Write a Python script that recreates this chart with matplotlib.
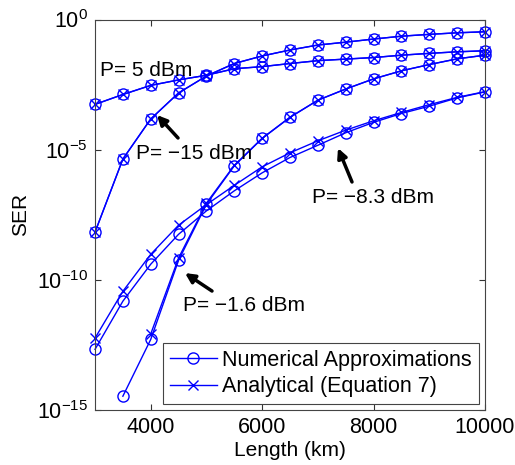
import numpy as np
import matplotlib
matplotlib.use('Agg')
import matplotlib.pyplot as plt

plt.rcParams['font.family'] = ['Liberation Sans', 'DejaVu Sans']
plt.rcParams['mathtext.fontset'] = 'custom'
plt.rcParams['mathtext.rm'] = 'Liberation Sans'
plt.rcParams['mathtext.it'] = 'Liberation Sans:italic'
plt.rcParams['mathtext.bf'] = 'Liberation Sans:bold'

# fibre length (km)
length = np.arange(3000, 10001, 500)

# log10(SER)
p5 = [-3.26, -2.88, -2.53, -2.32, -2.14, -1.89, -1.81, -1.69, -1.58, -1.52, -1.46, -1.37, -1.30, -1.24, -1.20]
m15 = [-8.17, -5.36, -3.82, -2.82, -2.17, -1.69, -1.40, -1.17, -0.98, -0.87, -0.75, -0.64, -0.57, -0.51, -0.47]
m1p6_num = [np.nan, -14.47, -12.29, -9.25, -7.10, -5.62, -4.57, -3.76, -3.10, -2.67, -2.28, -1.97, -1.73, -1.51, -1.37]
m1p6_ana = [np.nan, np.nan, -12.08, -9.16, -7.05, -5.60, -4.56, -3.75, -3.10, -2.67, -2.28, -1.97, -1.73, -1.51, -1.37]
m8p3_num = [-12.67, -10.82, -9.40, -8.25, -7.35, -6.58, -5.89, -5.30, -4.83, -4.35, -3.95, -3.61, -3.33, -3.01, -2.78]
m8p3_ana = [-12.24, -10.44, -9.02, -7.90, -7.11, -6.37, -5.66, -5.12, -4.66, -4.25, -3.89, -3.57, -3.27, -2.99, -2.77]

numerical = [p5, m15, m1p6_num, m8p3_num]
analytical = [p5, m15, m1p6_ana, m8p3_ana]

fig = plt.figure(figsize=(5.15, 4.65), dpi=100)
ax = fig.add_axes([0.1845, 0.1183, 0.7572, 0.8397])

blue = (0, 0, 1)
for i, s in enumerate(numerical):
    ax.plot(length, 10.0 ** np.array(s), '-', color=blue, lw=1.0, marker='o', ms=8,
            mfc='none', mew=1.0, clip_on=False,
            label='Numerical Approximations' if i == 0 else None)
for i, s in enumerate(analytical):
    ax.plot(length, 10.0 ** np.array(s), '-', color=blue, lw=1.0, marker='x', ms=7.5,
            mew=1.0, clip_on=False,
            label='Analytical (Equation 7)' if i == 0 else None)

ax.set_yscale('log')
ax.set_xlim(3000, 10000)
ax.set_ylim(1e-15, 1e0)
ax.set_xticks([4000, 6000, 8000, 10000])
ax.set_yticks([1e0, 1e-5, 1e-10, 1e-15])
ax.minorticks_off()
ax.tick_params(direction='in', length=4, width=0.8, top=True, right=True,
               labelsize=15.5, colors='#333333', labelcolor='black', pad=5)
for sp in ax.spines.values():
    sp.set_color('#444444')
    sp.set_linewidth(0.8)

ax.set_xlabel('Length (km)', fontsize=15, labelpad=2)
ax.set_ylabel('SER', fontsize=15, labelpad=5)

fs = 15
ax.text(3090, 10 ** -1.94, 'P= 5 dBm', fontsize=fs, va='center', ha='left')
ax.text(3736, 10 ** -5.13, 'P= \u221215 dBm', fontsize=fs, va='center', ha='left')
ax.text(6895, 10 ** -6.82, 'P= \u22128.3 dBm', fontsize=fs, va='center', ha='left')
ax.text(4580, 10 ** -11.0, 'P= \u22121.6 dBm', fontsize=fs, va='center', ha='left')

arrow = dict(arrowstyle='-|>', color='black', lw=2.5, mutation_scale=14, shrinkA=0, shrinkB=0)
ax.annotate('', xy=(4113, 10 ** -3.67), xytext=(4490, 10 ** -4.55), arrowprops=arrow)
ax.annotate('', xy=(7362, 10 ** -4.94), xytext=(7613, 10 ** -6.24), arrowprops=arrow)
ax.annotate('', xy=(4615, 10 ** -9.74), xytext=(5100, 10 ** -10.43), arrowprops=arrow)

leg = ax.legend(loc='lower right', fontsize=15.5, fancybox=False, edgecolor='#444444',
                framealpha=1, handlelength=2.2, handletextpad=0.25, labelspacing=0.25,
                borderaxespad=0.3, borderpad=0.3)
leg.get_frame().set_linewidth(0.8)

fig.savefig('out.png', dpi=100)
